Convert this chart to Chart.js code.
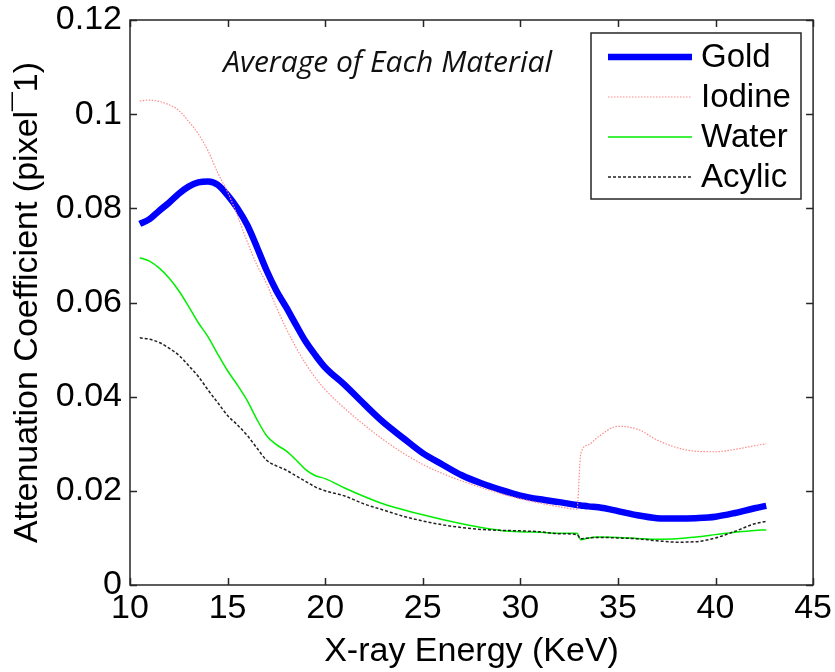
<!DOCTYPE html>
<html><head><meta charset="utf-8">
<script src="https://cdn.jsdelivr.net/npm/chart.js@4/dist/chart.umd.min.js"></script>
<style>html,body{margin:0;padding:0;background:#fff;}#wrap{width:835px;height:672px;}</style>
</head><body><div id="wrap"><canvas id="c" width="835" height="672"></canvas></div>
<script>
const energy = [10.5,11,11.5,12,12.5,13,13.5,14,14.5,15,15.5,16,16.5,17,17.5,18,18.5,19,19.5,20,21,22,23,24,25,26,27,28,29,30,31,32,32.9,33.1,33.5,34,35,36,37,38,39,40,41,42,42.6];
const gold   = [0.0767,0.0777,0.0795,0.0812,0.0831,0.0846,0.0855,0.0857,0.0850,0.0828,0.0800,0.0765,0.0718,0.0668,0.0625,0.0590,0.0553,0.0517,0.0488,0.0462,0.0425,0.0384,0.0345,0.0312,0.0280,0.0256,0.0233,0.0216,0.0202,0.0190,0.0182,0.0176,0.0170,0.0169,0.0167,0.0165,0.0157,0.0148,0.0142,0.0141,0.0142,0.0145,0.0153,0.0163,0.0168];
const iodine = [0.1028,0.1030,0.1027,0.1020,0.1008,0.0985,0.0958,0.0922,0.0875,0.0835,0.0785,0.0730,0.0680,0.0640,0.0590,0.0545,0.0505,0.0470,0.0440,0.0415,0.0375,0.0340,0.0308,0.0280,0.0256,0.0237,0.0221,0.0207,0.0194,0.0183,0.0174,0.0166,0.0161,0.0280,0.0298,0.0315,0.0337,0.0331,0.0308,0.0292,0.0284,0.0283,0.0288,0.0296,0.0300];
const water  = [0.0695,0.0688,0.0673,0.0652,0.0625,0.0592,0.0557,0.0527,0.0490,0.0455,0.0425,0.0392,0.0352,0.0317,0.0298,0.0285,0.0266,0.0245,0.0232,0.0226,0.0206,0.0188,0.0172,0.0160,0.0149,0.0139,0.0130,0.0122,0.0116,0.0113,0.0112,0.0110,0.0110,0.0096,0.0100,0.0102,0.0101,0.0099,0.0097,0.0098,0.0102,0.0107,0.0112,0.0116,0.0117];
const acylic = [0.0525,0.0522,0.0515,0.0503,0.0488,0.0466,0.0443,0.0414,0.0387,0.0360,0.0340,0.0318,0.0291,0.0265,0.0253,0.0244,0.0232,0.0220,0.0208,0.0200,0.0189,0.0172,0.0159,0.0146,0.0136,0.0128,0.0122,0.0118,0.0116,0.0115,0.0113,0.0109,0.0107,0.0098,0.0100,0.0101,0.0100,0.0098,0.0094,0.0091,0.0092,0.0100,0.0114,0.0130,0.0135];
const xTicks = [10,15,20,25,30,35,40,45];
const yTicks = [0,0.02,0.04,0.06,0.08,0.1,0.12];
const seriesNames = ['Gold','Iodine','Water','Acylic'];
const titleText = 'Average of Each Material';
const xTitle = 'X-ray Energy (KeV)';
const yTitle = 'Attenuation Coefficient (pixel\u00AF1)';

const FONT = '"Liberation Sans", Arial, sans-serif';
const pts = arr => energy.map((e,i)=>({x:e,y:arr[i]}));

const frame = {
  id:'frame',
  afterDraw(chart){
    const {ctx, chartArea:a, scales:{x,y}} = chart;
    ctx.save();
    ctx.strokeStyle = '#262626'; ctx.lineWidth = 1.5;
    ctx.strokeRect(a.left, a.top, a.right-a.left, a.bottom-a.top);
    const L = 7;
    ctx.beginPath();
    xTicks.forEach(v=>{const p=Math.round(x.getPixelForValue(v))+0.5;
      ctx.moveTo(p,a.bottom); ctx.lineTo(p,a.bottom-L);
      ctx.moveTo(p,a.top); ctx.lineTo(p,a.top+L);});
    yTicks.forEach(v=>{const p=Math.round(y.getPixelForValue(v))+0.5;
      ctx.moveTo(a.left,p); ctx.lineTo(a.left+L,p);
      ctx.moveTo(a.right,p); ctx.lineTo(a.right-L,p);});
    ctx.stroke();
    // title annotation
    ctx.fillStyle = '#111';
    ctx.font = 'italic 30px "Open Sans", sans-serif';
    ctx.textAlign = 'center'; ctx.textBaseline = 'middle';
    ctx.fillText(titleText, x.getPixelForValue(23.2), y.getPixelForValue(0.1107));
    // legend
    const bx=591, by=33, bw=210, bh=166;
    ctx.fillStyle='#fff'; ctx.fillRect(bx,by,bw,bh);
    ctx.strokeStyle='#262626'; ctx.lineWidth=1.5; ctx.strokeRect(bx,by,bw,bh);
    chart.data.datasets.forEach((ds,i)=>{
      const yy = by + 24 + i*40;
      ctx.save();
      ctx.strokeStyle = ds.borderColor; ctx.lineWidth = ds.borderWidth;
      ctx.setLineDash(ds.borderDash||[]);
      ctx.beginPath(); ctx.moveTo(608,yy); ctx.lineTo(692,yy); ctx.stroke();
      ctx.restore();
      ctx.fillStyle='#000'; ctx.font = '33px '+FONT; ctx.textAlign='left'; ctx.textBaseline='middle';
      ctx.fillText(ds.label, 701, yy+1);
    });
    ctx.restore();
  }
};

new Chart(document.getElementById('c'), {
  type:'line',
  data:{datasets:[
    {label:seriesNames[0], data:pts(gold), borderColor:'#0000ff', borderWidth:6.5, order:4},
    {label:seriesNames[1], data:pts(iodine), borderColor:'#ff8a8a', borderWidth:1.2, borderDash:[1.5,1.5], order:3},
    {label:seriesNames[2], data:pts(water), borderColor:'#00ee00', borderWidth:1.5, order:2},
    {label:seriesNames[3], data:pts(acylic), borderColor:'#222222', borderWidth:1.5, borderDash:[3,2], order:1}
  ]},
  options:{
    responsive:false, animation:false, devicePixelRatio:1,
    layout:{padding:{top:20,right:17,left:0,bottom:0}},
    elements:{point:{radius:0}, line:{cubicInterpolationMode:'monotone', fill:false}},
    plugins:{legend:{display:false}, tooltip:{enabled:false}},
    scales:{
      x:{type:'linear', min:10, max:45,
        afterBuildTicks(s){ s.ticks = xTicks.map(v=>({value:v})); },
        afterFit(s){ s.height = 87; },
        ticks:{font:{size:34,family:FONT}, color:'#000', padding:3, maxRotation:0, autoSkip:false},
        grid:{drawOnChartArea:false, drawTicks:false}, border:{display:false},
        title:{display:true, text:xTitle, font:{size:34,family:FONT}, color:'#000', padding:{top:0,bottom:0}}
      },
      y:{type:'linear', min:0, max:0.12,
        afterBuildTicks(s){ s.ticks = yTicks.map(v=>({value:v})); },
        afterFit(s){ s.width = 130; },
        ticks:{font:{size:34,family:FONT,lineHeight:0.6}, color:'#000', padding:8, autoSkip:false,
          callback:v=>String(parseFloat(Number(v).toFixed(2)))},
        grid:{drawOnChartArea:false, drawTicks:false}, border:{display:false},
        title:{display:true, text:yTitle, font:{size:34,family:FONT}, color:'#000', padding:{top:7,bottom:0}}
      }
    }
  },
  plugins:[frame]
});
</script></body></html>
